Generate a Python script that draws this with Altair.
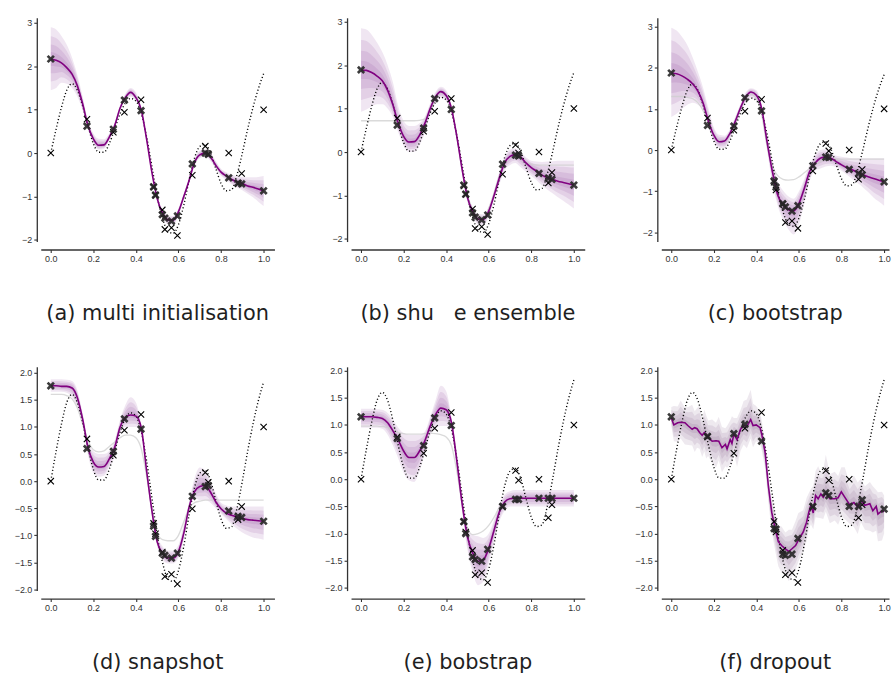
import altair as alt
import pandas as pd

# ---------------- data ----------------
X_GRID = [round(i * 0.025, 3) for i in range(41)]

TRUE_F = [0.0, 0.55, 1.05, 1.45, 1.6, 1.45, 1.08, 0.62, 0.22, 0.02, 0.02, 0.22, 0.55, 0.9,
          1.15, 1.26, 1.2, 0.92, 0.38, -0.3, -1.0, -1.5, -1.8, -1.85, -1.65, -1.2, -0.62,
          -0.12, 0.15, 0.2, 0.02, -0.35, -0.7, -0.87, -0.84, -0.5, 0.0, 0.55, 1.05, 1.48, 1.83]

DATA_X = [0.0, 0.17, 0.294, 0.346, 0.424, 0.483, 0.492, 0.524, 0.536, 0.567, 0.595, 0.665,
          0.726, 0.74, 0.836, 0.88, 0.897, 1.0]
DATA_Y = [0.0, 0.78, 0.48, 0.94, 1.23, -0.78, -0.97, -1.31, -1.76, -1.72, -1.90, -0.51,
          0.16, -0.02, 0.0, -0.71, -0.47, 1.0]

# (a) multi initialisation
A_MEAN = [2.17, 2.14, 2.08, 1.97, 1.82, 1.55, 1.13, 0.63, 0.33, 0.18, 0.19, 0.37, 0.63, 1.03,
          1.28, 1.40, 1.28, 1.0, 0.33, -0.44, -1.05, -1.38, -1.54, -1.55, -1.35, -1.0, -0.63,
          -0.22, -0.04, 0.0, -0.09, -0.28, -0.44, -0.53, -0.61, -0.66, -0.70, -0.76, -0.79,
          -0.83, -0.87]
A_HI = [2.9, 2.85, 2.7, 2.5, 2.2, 1.8, 1.3, 0.75, 0.45, 0.33, 0.32, 0.45, 0.7, 1.1, 1.36, 1.5,
        1.4, 1.06, 0.4, -0.38, -0.98, -1.3, -1.44, -1.45, -1.27, -0.93, -0.55, -0.13, 0.06,
        0.1, 0.02, -0.18, -0.36, -0.44, -0.5, -0.53, -0.55, -0.56, -0.56, -0.55, -0.53]
A_LO = [1.45, 1.5, 1.62, 1.6, 1.5, 1.3, 0.98, 0.55, 0.22, 0.08, 0.1, 0.3, 0.57, 0.97, 1.2, 1.3,
        1.2, 0.93, 0.26, -0.5, -1.12, -1.46, -1.64, -1.65, -1.44, -1.07, -0.7, -0.3, -0.12,
        -0.08, -0.18, -0.36, -0.52, -0.62, -0.72, -0.8, -0.86, -0.94, -1.02, -1.12, -1.22]
A_PRED = [2.17, 0.62, 0.55, 1.22, 0.98, -0.78, -0.97, -1.42, -1.5, -1.57, -1.45, -0.25, 0.0,
          -0.03, -0.57, -0.69, -0.71, -0.87]

# (b) shuffle ensemble
B_MEAN = [1.89, 1.88, 1.83, 1.75, 1.64, 1.42, 1.08, 0.66, 0.36, 0.23, 0.24, 0.39, 0.66, 1.0,
          1.27, 1.39, 1.3, 1.0, 0.36, -0.4, -1.05, -1.37, -1.54, -1.55, -1.36, -1.0, -0.59,
          -0.25, -0.1, -0.06, -0.12, -0.25, -0.36, -0.44, -0.53, -0.59, -0.63, -0.67, -0.7,
          -0.73, -0.76]
B_HI = [2.85, 2.82, 2.7, 2.52, 2.3, 2.0, 1.6, 1.05, 0.72, 0.6, 0.6, 0.66, 0.82, 1.12, 1.38,
        1.5, 1.42, 1.08, 0.45, -0.3, -0.95, -1.28, -1.42, -1.43, -1.25, -0.88, -0.45, -0.1,
        0.06, 0.08, 0.0, -0.12, -0.2, -0.22, -0.23, -0.22, -0.21, -0.2, -0.2, -0.2, -0.2]
B_LO = [0.93, 0.98, 1.05, 1.1, 1.1, 1.0, 0.8, 0.45, 0.15, 0.0, 0.0, 0.15, 0.45, 0.85, 1.13,
        1.25, 1.17, 0.9, 0.25, -0.5, -1.15, -1.47, -1.66, -1.68, -1.48, -1.1, -0.75, -0.42,
        -0.3, -0.25, -0.35, -0.45, -0.55, -0.65, -0.77, -0.86, -0.95, -1.04, -1.12, -1.21,
        -1.3]
B_GREY = [0.72, 0.72, 0.72, 0.72, 0.72, 0.72, 0.72, 0.72, 0.72, 0.72, 0.72, 0.73, 0.76, 0.95,
          1.22, 1.36, 1.3, 1.0, 0.36, -0.4, -1.0, -1.32, -1.5, -1.5, -1.3, -0.95, -0.55,
          -0.25, -0.12, -0.1, -0.15, -0.24, -0.28, -0.3, -0.3, -0.3, -0.3, -0.3, -0.3, -0.3,
          -0.3]
B_PRED = [1.89, 0.62, 0.55, 1.23, 0.98, -0.76, -0.97, -1.4, -1.5, -1.56, -1.45, -0.28, -0.07,
          -0.09, -0.49, -0.6, -0.63, -0.76]

# (c) bootstrap
C_MEAN = [1.87, 1.85, 1.8, 1.72, 1.61, 1.43, 1.13, 0.69, 0.36, 0.2, 0.22, 0.4, 0.69, 1.02,
          1.29, 1.41, 1.33, 1.0, 0.2, -0.52, -1.09, -1.33, -1.45, -1.48, -1.29, -0.93, -0.52,
          -0.32, -0.2, -0.17, -0.2, -0.28, -0.36, -0.43, -0.48, -0.54, -0.6, -0.65, -0.69,
          -0.73, -0.77]
C_HI = [2.97, 2.9, 2.75, 2.55, 2.25, 1.9, 1.5, 1.0, 0.55, 0.37, 0.35, 0.5, 0.8, 1.12, 1.4, 1.5,
        1.45, 1.1, 0.4, -0.25, -0.75, -0.98, -1.12, -1.18, -1.0, -0.7, -0.35, -0.12, 0.0,
        0.02, -0.08, -0.14, -0.16, -0.18, -0.2, -0.2, -0.2, -0.2, -0.2, -0.2, -0.2]
C_LO = [0.8, 0.88, 1.0, 1.1, 1.15, 1.1, 0.95, 0.55, 0.2, 0.05, 0.05, 0.25, 0.55, 0.9, 1.15,
        1.27, 1.2, 0.85, 0.0, -0.8, -1.35, -1.7, -1.92, -2.05, -1.8, -1.3, -0.75, -0.5, -0.45,
        -0.4, -0.38, -0.42, -0.5, -0.6, -0.7, -0.8, -0.9, -1.02, -1.15, -1.25, -1.35]
C_GREY = [1.3, 1.3, 1.3, 1.28, 1.25, 1.15, 0.95, 0.65, 0.38, 0.22, 0.22, 0.38, 0.65, 1.0,
          1.25, 1.35, 1.25, 0.85, 0.1, -0.4, -0.62, -0.71, -0.73, -0.72, -0.65, -0.55, -0.45,
          -0.35, -0.28, -0.24, -0.22, -0.22, -0.22, -0.22, -0.22, -0.22, -0.22, -0.22, -0.22,
          -0.22, -0.22]
C_PRED = [1.87, 0.6, 0.58, 1.27, 0.95, -0.75, -0.9, -1.3, -1.38, -1.48, -1.35, -0.38, -0.17,
          -0.18, -0.47, -0.57, -0.6, -0.77]

# (d) snapshot
D_MEAN = [1.76, 1.76, 1.75, 1.75, 1.72, 1.54, 1.14, 0.62, 0.35, 0.26, 0.27, 0.41, 0.62, 0.99,
          1.17, 1.22, 1.2, 0.99, 0.2, -0.54, -1.12, -1.33, -1.42, -1.42, -1.3, -0.96, -0.48,
          -0.2, -0.1, -0.08, -0.2, -0.38, -0.51, -0.59, -0.63, -0.66, -0.69, -0.71, -0.72,
          -0.73, -0.74]
D_HI = [1.88, 1.88, 1.88, 1.87, 1.85, 1.68, 1.25, 0.75, 0.55, 0.5, 0.5, 0.56, 0.75, 1.12,
        1.4, 1.55, 1.45, 1.05, 0.3, -0.42, -1.0, -1.2, -1.28, -1.28, -1.18, -0.8, -0.38, 0.05,
        0.25, 0.2, 0.0, -0.22, -0.4, -0.45, -0.47, -0.47, -0.47, -0.47, -0.47, -0.47, -0.47]
D_LO = [1.65, 1.65, 1.65, 1.63, 1.55, 1.35, 1.02, 0.48, 0.15, 0.08, 0.1, 0.25, 0.45, 0.85,
        1.0, 1.0, 1.0, 0.85, 0.1, -0.65, -1.2, -1.45, -1.52, -1.52, -1.42, -1.08, -0.55, -0.3,
        -0.35, -0.35, -0.4, -0.5, -0.6, -0.7, -0.8, -0.88, -0.95, -1.0, -1.04, -1.06, -1.08]
D_GREY = [1.6, 1.6, 1.6, 1.58, 1.52, 1.35, 1.05, 0.75, 0.58, 0.54, 0.56, 0.64, 0.72, 0.8,
          0.85, 0.85, 0.8, 0.6, 0.1, -0.5, -0.95, -1.08, -1.1, -1.1, -1.0, -0.75, -0.5, -0.4,
          -0.37, -0.35, -0.35, -0.35, -0.35, -0.35, -0.35, -0.35, -0.35, -0.35, -0.35, -0.35,
          -0.35]
D_PRED = [1.76, 0.6, 0.55, 1.15, 0.96, -0.83, -1.02, -1.33, -1.37, -1.42, -1.33, -0.28, -0.1,
          -0.08, -0.55, -0.65, -0.67, -0.74]

# (e) bobstrap
E_MEAN = [1.15, 1.15, 1.15, 1.14, 1.12, 1.04, 0.89, 0.72, 0.52, 0.4, 0.4, 0.52, 0.71, 0.98,
          1.19, 1.31, 1.28, 1.04, 0.34, -0.45, -1.06, -1.36, -1.51, -1.48, -1.27, -0.94, -0.6,
          -0.42, -0.36, -0.35, -0.35, -0.35, -0.35, -0.35, -0.35, -0.35, -0.35, -0.35, -0.35,
          -0.35, -0.35]
E_HI = [1.3, 1.3, 1.3, 1.29, 1.28, 1.22, 1.1, 0.95, 0.85, 0.82, 0.82, 0.82, 0.88, 1.15, 1.45,
        1.72, 1.62, 1.15, 0.5, -0.3, -0.92, -1.02, -1.05, -1.08, -1.0, -0.75, -0.45, -0.28,
        -0.22, -0.2, -0.2, -0.2, -0.2, -0.2, -0.2, -0.2, -0.2, -0.2, -0.2, -0.2, -0.2]
E_LO = [0.95, 0.95, 0.95, 0.95, 0.93, 0.82, 0.62, 0.38, 0.12, -0.02, -0.05, 0.15, 0.48, 0.8,
        0.95, 0.98, 0.98, 0.88, 0.2, -0.6, -1.3, -1.72, -1.95, -1.88, -1.55, -1.15, -0.78,
        -0.58, -0.5, -0.5, -0.5, -0.5, -0.5, -0.5, -0.5, -0.5, -0.5, -0.5, -0.5, -0.5, -0.5]
E_GREY = [0.98, 0.98, 0.98, 0.98, 0.97, 0.95, 0.9, 0.86, 0.84, 0.83, 0.83, 0.83, 0.84, 0.85,
          0.84, 0.82, 0.78, 0.62, 0.15, -0.45, -0.9, -1.02, -1.0, -0.95, -0.85, -0.7, -0.52,
          -0.42, -0.38, -0.36, -0.36, -0.36, -0.36, -0.36, -0.36, -0.36, -0.36, -0.36, -0.36,
          -0.36, -0.36]
E_PRED = [1.15, 0.75, 0.62, 1.13, 0.99, -0.78, -1.0, -1.43, -1.48, -1.51, -1.29, -0.5, -0.37,
          -0.37, -0.35, -0.35, -0.35, -0.35]

# (f) dropout (jagged, irregular sample positions)
F_X = [0.0, 0.012, 0.03, 0.044, 0.064, 0.08, 0.098, 0.11, 0.121, 0.133, 0.145, 0.155, 0.164,
       0.173, 0.192, 0.21, 0.223, 0.238, 0.254, 0.262, 0.277, 0.285, 0.294, 0.309, 0.325,
       0.34, 0.355, 0.373, 0.384, 0.399, 0.417, 0.425, 0.441, 0.456, 0.472, 0.488, 0.503,
       0.518, 0.536, 0.552, 0.567, 0.584, 0.597, 0.62, 0.636, 0.646, 0.656, 0.667, 0.678,
       0.69, 0.703, 0.714, 0.726, 0.745, 0.768, 0.784, 0.799, 0.815, 0.838, 0.858, 0.876,
       0.891, 0.91, 0.933, 0.947, 0.963, 0.971, 0.99, 1.0]
F_MEAN = [1.13, 1.0, 1.04, 1.05, 1.04, 0.98, 0.92, 0.95, 0.93, 0.86, 0.81, 0.86, 0.83, 0.78,
          0.70, 0.71, 0.70, 0.58, 0.64, 0.56, 0.73, 0.66, 0.83, 0.73, 0.92, 0.99, 0.97, 1.10,
          0.99, 1.0, 0.95, 0.83, 0.49, -0.12, -0.61, -0.91, -1.15, -1.22, -1.28, -1.33, -1.28,
          -1.22, -1.12, -0.97, -0.79, -0.61, -0.48, -0.62, -0.30, -0.36, -0.27, -0.33, -0.25,
          -0.36, -0.36, -0.34, -0.23, -0.33, -0.47, -0.43, -0.51, -0.39, -0.48, -0.45, -0.58,
          -0.5, -0.64, -0.58, -0.6]
F_HI = [1.33, 1.35, 1.34, 1.45, 1.32, 1.33, 1.37, 1.25, 1.31, 1.36, 1.11, 1.28, 1.18, 1.08,
        1.10, 1.04, 1.15, 0.96, 0.94, 0.98, 1.08, 1.16, 1.13, 1.13, 1.27, 1.44, 1.47, 1.65,
        1.39, 1.35, 1.25, 1.08, 0.69, 0.08, -0.36, -0.61, -0.85, -0.87, -0.98, -0.93, -0.93,
        -0.77, -0.62, -0.57, -0.34, -0.26, -0.18, -0.12, 0.15, 0.24, 0.13, 0.17, 0.45, 0.09,
        0.14, 0.06, 0.22, 0.22, -0.07, 0.07, -0.06, 0.01, -0.13, -0.05, -0.13, -0.2, -0.24,
        -0.23, -0.3]
F_LO = [0.98, 0.70, 0.69, 0.75, 0.64, 0.63, 0.62, 0.50, 0.58, 0.56, 0.41, 0.51, 0.38, 0.43,
        0.30, 0.21, 0.35, 0.13, 0.24, 0.21, 0.28, 0.26, 0.48, 0.23, 0.52, 0.64, 0.57, 0.75,
        0.59, 0.70, 0.65, 0.53, 0.19, -0.42, -0.96, -1.31, -1.60, -1.72, -1.73, -1.88, -1.78,
        -1.67, -1.52, -1.32, -1.14, -0.91, -0.83, -0.92, -0.70, -0.71, -0.72, -0.73, -0.60,
        -0.81, -0.76, -0.84, -0.68, -0.73, -0.82, -0.88, -1.01, -0.79, -0.93, -0.95, -0.98,
        -0.95, -1.14, -1.13, -1.00]
F_PRED = [1.15, 0.79, 0.84, 1.01, 0.70, -0.91, -0.92, -1.38, -1.40, -1.38, -1.09, -0.50, -0.25,
          -0.30, -0.50, -0.50, -0.38, -0.55]

CAPTIONS = ["(a) multi initialisation", "(b) shu\u00a0\u00a0\u00a0e ensemble", "(c) bootstrap",
            "(d) snapshot", "(e) bobstrap", "(f) dropout"]

# ---------------- styling ----------------
PURPLE = "#800080"
BAND = "#8d3f9b"
BAND_DROPOUT = "#7c5686"
GREY = "#cdcdcd"
XPATH = "M-1,-1L1,1M-1,1L1,-1"
FRACS = [1.0, 0.72, 0.46, 0.22]
PLOT_H = 225
TICK_FONT = "Liberation Sans Narrow, Liberation Sans, Arial, sans-serif"


def panel(xs, mean, lo, hi, grey, pred, ydom, yvals, yfmt, caption, width, xmax, interp,
          band_color=BAND):
    xscale = alt.Scale(domain=[-0.047, xmax], nice=False, zero=False)
    yscale = alt.Scale(domain=ydom, nice=False, zero=False)
    xaxis = alt.Axis(values=[0.0, 0.2, 0.4, 0.6, 0.8, 1.0], format=".1f", title=None,
                     offset=8, grid=False)
    yaxis = alt.Axis(values=yvals, format=yfmt, title=None, offset=4, grid=False)

    def X(f):
        return alt.X(f, type="quantitative", scale=xscale, axis=xaxis)

    def Y(f):
        return alt.Y(f, type="quantitative", scale=yscale, axis=yaxis)

    rows = []
    for k, fr in enumerate(FRACS):
        for x, m, l, h in zip(xs, mean, lo, hi):
            rows.append({"x": x, "k": k, "lo": m + fr * (l - m), "hi": m + fr * (h - m)})
    bdf = pd.DataFrame(rows)
    layers = [
        alt.Chart(bdf).mark_area(color=band_color, opacity=0.13, interpolate=interp).encode(
            x=X("x"), y=Y("lo"), y2="hi", detail="k:N")
    ]
    if grey is not None:
        gdf = pd.DataFrame({"x": xs, "g": grey})
        layers.append(alt.Chart(gdf).mark_line(color=GREY, strokeWidth=1.3, opacity=0.75,
                                               interpolate=interp).encode(x=X("x"), y=Y("g")))
    tdf = pd.DataFrame({"x": X_GRID, "t": TRUE_F})
    layers.append(alt.Chart(tdf).mark_line(color="black", strokeWidth=1.4, strokeDash=[1.1, 2.3],
                                           interpolate="monotone").encode(x=X("x"), y=Y("t")))
    mdf = pd.DataFrame({"x": xs, "m": mean})
    layers.append(alt.Chart(mdf).mark_line(color=PURPLE, strokeWidth=1.6,
                                           interpolate=interp).encode(x=X("x"), y=Y("m")))
    ddf = pd.DataFrame({"x": DATA_X, "y": DATA_Y})
    layers.append(alt.Chart(ddf).mark_point(shape=XPATH, size=40, color="black", filled=False,
                                            strokeWidth=1.1, opacity=1).encode(x=X("x"), y=Y("y")))
    pdf = pd.DataFrame({"x": DATA_X, "p": pred})
    layers.append(alt.Chart(pdf).mark_point(shape=XPATH, size=40, color="#262626", filled=False,
                                            strokeWidth=2.7, opacity=0.9).encode(x=X("x"), y=Y("p")))
    return alt.layer(*layers).properties(
        width=width, height=PLOT_H,
        title=alt.TitleParams(text=caption, orient="bottom", anchor="middle", frame="group",
                              offset=40))


INT_TICKS = [-2, -1, 0, 1, 2, 3]
HALF_TICKS = [-2.0, -1.5, -1.0, -0.5, 0.0, 0.5, 1.0, 1.5, 2.0]
W = 235
W3 = 229
XMAX = 1.051
XMAX3 = -0.047 + W3 / 214.0

pa = panel(X_GRID, A_MEAN, A_LO, A_HI, None, A_PRED, [-2.04, 3.12], INT_TICKS, "d",
           CAPTIONS[0], W, XMAX, "monotone")
pb = panel(X_GRID, B_MEAN, B_LO, B_HI, B_GREY, B_PRED, [-2.06, 3.09], INT_TICKS, "d",
           CAPTIONS[1], W, XMAX, "monotone")
pc = panel(X_GRID, C_MEAN, C_LO, C_HI, C_GREY, C_PRED, [-2.22, 3.21], INT_TICKS, "d",
           CAPTIONS[2], W3, XMAX3, "monotone")
pd_ = panel(X_GRID, D_MEAN, D_LO, D_HI, D_GREY, D_PRED, [-2.02, 2.11], HALF_TICKS, ".1f",
            CAPTIONS[3], W, XMAX, "monotone")
pe = panel(X_GRID, E_MEAN, E_LO, E_HI, E_GREY, E_PRED, [-2.05, 2.07], HALF_TICKS, ".1f",
           CAPTIONS[4], W, XMAX, "monotone")
pf = panel(F_X, F_MEAN, F_LO, F_HI, None, F_PRED, [-2.05, 2.07], HALF_TICKS, ".1f",
           CAPTIONS[5], W3, XMAX3, "linear", band_color=BAND_DROPOUT)

chart = alt.concat(pa, pb, pc, pd_, pe, pf, columns=3,
                   spacing={"row": 126, "column": 77}, bounds="flush").properties(
    padding={"left": 14, "top": 15, "right": 0, "bottom": 0}
).configure_view(stroke=None).configure_axis(
    domainColor="#333333", domainWidth=1.3, tickColor="#333333", tickWidth=1.1, tickSize=3,
    labelColor="#333333", labelFont=TICK_FONT, labelFontSize=9, labelPadding=2
).configure_title(
    font="DejaVu Sans", fontSize=21, fontWeight="normal", color="#1f1f1f", baseline="top"
)

chart.save("out.html", embed_options={"renderer": "svg", "actions": False})
